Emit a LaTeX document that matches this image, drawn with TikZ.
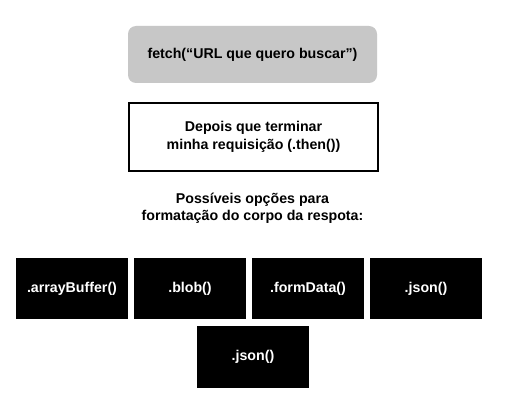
\documentclass[tikz,border=0pt]{standalone}
\usepackage{fontspec}
\setmainfont{Liberation Sans}
\begin{document}
\begin{tikzpicture}[x=1pt,y=-1pt,
  txt/.style={font=\bfseries\fontsize{14.2}{17.5}\selectfont, align=center},
  graybox/.style={fill=black!22, draw=none, rounded corners=8pt, txt},
  whitebox/.style={draw=black, line width=2pt, fill=white, txt},
  blackbox/.style={fill=black, draw=none, text=white, txt}]
\useasboundingbox[fill=white] (0,0) rectangle (505,414);
\node[graybox, minimum width=249pt, minimum height=57pt] (fetch) at (252.5,54.5) {fetch(“URL que quero buscar”)};
\node[whitebox, minimum width=249pt, minimum height=68pt] (then) at (253.5,137) {Depois que terminar\\minha requisição (.then())};
\node[txt] (opts) at (252.5,208.5) {Possíveis opções para\\formatação do corpo da respota:};
\node[blackbox, minimum width=112pt, minimum height=61pt] (ab) at (72,288.5) {.arrayBuffer()};
\node[blackbox, minimum width=112pt, minimum height=61pt] (blob) at (190,288.5) {.blob()};
\node[blackbox, minimum width=112pt, minimum height=61pt] (fd) at (308,288.5) {.formData()};
\node[blackbox, minimum width=112pt, minimum height=61pt] (json1) at (426,288.5) {.json()};
\node[blackbox, minimum width=112pt, minimum height=62pt] (json2) at (253,357) {.json()};
\end{tikzpicture}
\end{document}
